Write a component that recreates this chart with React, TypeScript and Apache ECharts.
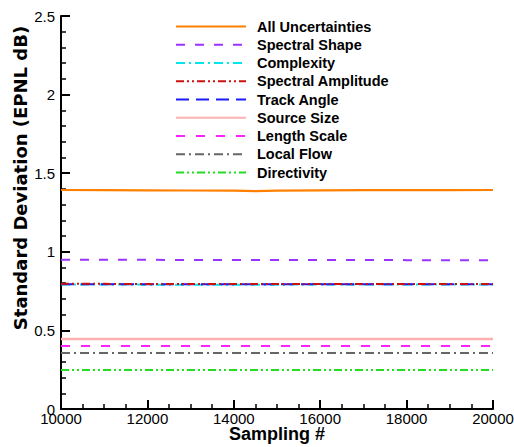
import React, { useEffect, useRef } from "react";
import * as echarts from "echarts";

const samplingNumbers = [10000, 11000, 12000, 13000, 14000, 14500, 15000, 16000, 17000, 18000, 19000, 20000];

const seriesNames = [
  "All Uncertainties",
  "Spectral Shape",
  "Complexity",
  "Spectral Amplitude",
  "Track Angle",
  "Source Size",
  "Length Scale",
  "Local Flow",
  "Directivity",
];

const allUncertainties = [1.393, 1.392, 1.391, 1.390, 1.389, 1.386, 1.389, 1.391, 1.392, 1.392, 1.392, 1.393];
const spectralShape = [0.950, 0.949, 0.949, 0.948, 0.948, 0.948, 0.948, 0.948, 0.948, 0.947, 0.947, 0.947];
const complexity = [0.792, 0.792, 0.791, 0.791, 0.791, 0.791, 0.791, 0.792, 0.792, 0.792, 0.792, 0.792];
const spectralAmplitude = [0.796, 0.796, 0.795, 0.795, 0.795, 0.795, 0.795, 0.795, 0.795, 0.795, 0.795, 0.795];
const trackAngle = [0.794, 0.794, 0.793, 0.793, 0.793, 0.793, 0.793, 0.793, 0.793, 0.793, 0.793, 0.793];
const sourceSize = [0.445, 0.445, 0.445, 0.445, 0.445, 0.445, 0.445, 0.445, 0.445, 0.445, 0.445, 0.445];
const lengthScale = [0.401, 0.401, 0.401, 0.401, 0.401, 0.401, 0.401, 0.401, 0.401, 0.401, 0.401, 0.401];
const localFlow = [0.356, 0.357, 0.357, 0.357, 0.357, 0.357, 0.357, 0.357, 0.357, 0.357, 0.357, 0.357];
const directivity = [0.248, 0.248, 0.248, 0.248, 0.248, 0.248, 0.248, 0.248, 0.248, 0.248, 0.248, 0.248];

const seriesValues = [
  allUncertainties,
  spectralShape,
  complexity,
  spectralAmplitude,
  trackAngle,
  sourceSize,
  lengthScale,
  localFlow,
  directivity,
];

const seriesColors = ["#ff8000", "#9933ff", "#00e5ee", "#cc1111", "#1a1aff", "#ffb0b0", "#ff22ff", "#666666", "#22dd22"];
const seriesDash: any[] = [
  "solid",
  [9, 10],
  [9, 4, 2, 4],
  [8, 3, 2, 3, 2, 3],
  [13, 7],
  "solid",
  [9, 11],
  [9, 4, 2, 4],
  [8, 3, 2, 3, 2, 3],
];
const seriesWidths = [2.2, 2, 2, 2, 2, 2.5, 2, 2, 2];

const yTicks = [0, 0.5, 1, 1.5, 2, 2.5];

export default function App() {
  const ref = useRef<HTMLDivElement>(null);
  useEffect(() => {
    if (!ref.current) return;
    const chart = echarts.init(ref.current, null, { renderer: "svg" });
    const font = "Liberation Sans, Arial, Helvetica, sans-serif";
    const series = seriesNames.map((name, i) => ({
      name,
      type: "line",
      data: samplingNumbers.map((x, j) => [x, seriesValues[i][j]]),
      symbol: "none",
      showSymbol: false,
      lineStyle: { color: seriesColors[i], width: seriesWidths[i], type: seriesDash[i] },
      itemStyle: { color: seriesColors[i] },
      z: i === 3 ? 5 : 2,
    }));
    chart.setOption({
      animation: false,
      backgroundColor: "#ffffff",
      grid: { left: 61, right: 21, top: 16, bottom: 38, containLabel: false, outerBoundsMode: "none" },
      legend: {
        orient: "vertical",
        left: 175,
        top: 19,
        itemWidth: 70,
        itemHeight: 2,
        itemGap: 3.25,
        padding: 0,
        data: seriesNames,
        itemStyle: { opacity: 0 },
        textStyle: {
          fontFamily: font,
          fontWeight: "bold",
          fontSize: 14.5,
          color: "#000",
          padding: [0, 0, 0, 6],
        },
      },
      xAxis: {
        type: "value",
        min: 10000,
        max: 20000,
        interval: 2000,
        name: "Sampling #",
        nameLocation: "middle",
        nameGap: 18,
        nameMoveOverlap: false,
        nameTextStyle: { fontFamily: font, fontWeight: "bold", fontSize: 18, lineHeight: 14, color: "#000" },
        axisLine: { show: true, lineStyle: { color: "#000", width: 2 } },
        axisTick: { show: true, inside: true, length: 9, lineStyle: { color: "#000", width: 2 } },
        minorTick: { show: true, splitNumber: 4, length: 5, lineStyle: { color: "#000", width: 1.5 } },
        axisLabel: {
          fontFamily: font,
          fontSize: 15,
          lineHeight: 12,
          color: "#000",
          margin: 3,
          formatter: (v: number) => String(v),
        },
        splitLine: { show: false },
        minorSplitLine: { show: false },
      },
      yAxis: {
        type: "value",
        min: 0,
        max: 2.5,
        interval: 0.5,
        axisLine: { show: true, lineStyle: { color: "#000", width: 2 } },
        axisTick: { show: true, inside: true, length: 9, lineStyle: { color: "#000", width: 2 } },
        minorTick: { show: true, splitNumber: 5, length: 5, lineStyle: { color: "#000", width: 1.5 } },
        axisLabel: {
          fontFamily: font,
          fontSize: 15,
          color: "#000",
          margin: 6,
          formatter: (v: number) => (yTicks.indexOf(v) >= 0 ? String(v) : ""),
        },
        splitLine: { show: false },
        minorSplitLine: { show: false },
      },
      graphic: [
        {
          type: "text",
          x: 20,
          y: 178,
          rotation: Math.PI / 2,
          style: {
            text: "Standard Deviation (EPNL dB)",
            font: "bold 18px DejaVu Sans, sans-serif",
            fill: "#000",
            textAlign: "center",
            textVerticalAlign: "middle",
          },
        },
      ],
      series,
    });
    return () => chart.dispose();
  }, []);
  return <div ref={ref} style={{ width: 514, height: 447, position: "absolute", left: 0, top: 0 }} />;
}
